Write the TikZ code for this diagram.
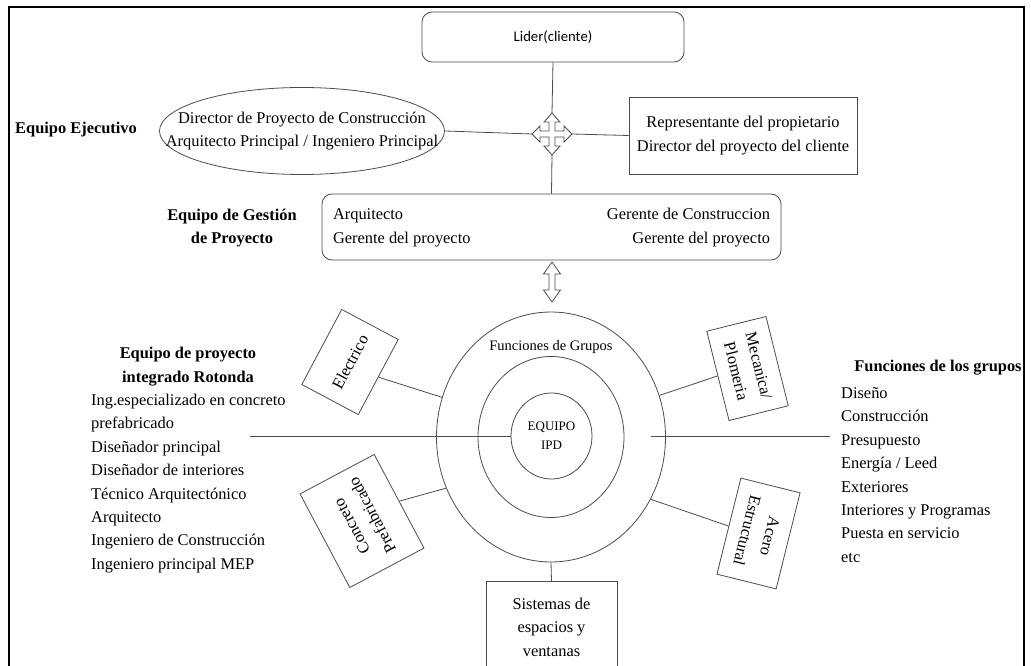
\documentclass[tikz,border=0pt]{standalone}
\usepackage{fontspec}
\setmainfont{Liberation Serif}
\newfontfamily\calibri{Carlito}
\usetikzlibrary{shapes.geometric}

\newcommand\texto{\fontsize{16.4}{23.4}\selectfont}

\tikzset{
	linea/.style={draw=black!70, line width=0.8pt},
	caja/.style={linea, rectangle, inner sep=0pt, align=center, font=\texto},
	redonda/.style={caja, rounded corners=10pt},
	titulo/.style={inner sep=0pt, align=center, font=\texto\bfseries},
	lista/.style={inner sep=0pt, align=left, font=\texto},
	anillo/.style={linea, ellipse, inner sep=0pt}
}

\begin{document}
\begin{tikzpicture}[x=1pt,y=-1pt]
	\useasboundingbox (0,0) rectangle (1031,666);
	\draw[line width=2pt] (9,672) -- (9,7) -- (1024,7) -- (1024,672);

	% parte de arriba
	\node[redonda, minimum width=262pt, minimum height=50pt, font=\calibri\fontsize{14.7}{18}\selectfont] (lider) at (553,37) {Lider(cliente)};
	\node[anillo, minimum width=285pt, minimum height=87pt] (director) at (302,131) {};
	\node[lista, align=center] (directorTxt) at (director.center) {Director de Proyecto de Construcción\\Arquitecto Principal / Ingeniero Principal};
	\node[minimum width=40pt, minimum height=42pt, inner sep=0pt] (cruz) at (552,134) {};
	\draw[linea, shift={(cruz.center)}] (0,-21) -- (8,-12) -- (3,-12) -- (3,-3) -- (12,-3) -- (12,-8) -- (20,0) -- (12,8) -- (12,3) -- (3,3) -- (3,12) -- (8,12) -- (0,21) -- (-8,12) -- (-3,12) -- (-3,3) -- (-12,3) -- (-12,8) -- (-20,0) -- (-12,-8) -- (-12,-3) -- (-3,-3) -- (-3,-12) -- (-8,-12) -- cycle;
	\node[caja, minimum width=228pt, minimum height=77pt] (representante) at (743,135.5) {Representante del propietario\\Director del proyecto del cliente};
	\node[redonda, minimum width=459pt, minimum height=66pt] (gestion) at (551.5,227) {\begin{tabular*}{437pt}{@{}l@{\extracolsep{\fill}}r@{}}Arquitecto & Gerente de Construccion\\Gerente del proyecto & Gerente del proyecto\end{tabular*}};
	\node[titulo, anchor=west] (ejecutivo) at (15,130) {Equipo Ejecutivo};
	\node[titulo] (gestionTit) at (232,228) {Equipo de Gestión\\de Proyecto};

	\draw[linea] (lider.south) -- (cruz.north);
	\draw[linea] (cruz.south) -- (gestion.north);
	\draw[linea] (director.east) -- (cruz.west);
	\draw[linea] (cruz.east) -- (representante.west);

	\node[minimum width=17pt, minimum height=40pt, inner sep=0pt] (flecha) at (552,282) {};
	\draw[linea, shift={(flecha.center)}] (0,-20) -- (8.5,-8) -- (3,-8) -- (3,8) -- (8.5,8) -- (0,20) -- (-8.5,8) -- (-3,8) -- (-3,-8) -- (-8.5,-8) -- cycle;

	% anillos
	\node[anillo, minimum width=229pt, minimum height=250pt] (exterior) at (551,437) {};
	\node[anillo, minimum width=146pt, minimum height=161pt] (medio) at (551,437) {};
	\node[anillo, minimum width=81pt, minimum height=86pt, align=center, font=\fontsize{13}{19}\selectfont] (ipd) at (551.5,436) {EQUIPO\\IPD};
	\node[inner sep=0pt, font=\fontsize{14.5}{17}\selectfont] (funciones) at (551,347) {Funciones de Grupos};

	\node[caja, rotate=62, minimum width=85pt, minimum height=64pt] (electrico) at (350,362) {Electrico};
	\node[caja, rotate=118, minimum width=106pt, minimum height=84pt] (concreto) at (362,521) {Concreto\\Prefabricado};
	\node[caja, rotate=-76, minimum width=92pt, minimum height=61pt] (mecanica) at (747.5,368.5) {Mecanica/\\Plomeria};
	\node[caja, rotate=-104, minimum width=99pt, minimum height=61pt] (acero) at (758.5,533.5) {Acero\\Estructural};
	\node[caja, minimum width=131pt, minimum height=91pt] (sistemas) at (551.5,627) {Sistemas de\\espacios y\\ventanas};

	\draw[linea] (electrico.south) -- (exterior.160);
	\draw[linea] (concreto.south) -- (exterior.206);
	\draw[linea] (mecanica.south) -- (exterior.21);
	\draw[linea] (acero.south) -- (exterior.-32);
	\draw[linea] (exterior.south) -- (sistemas.north);

	\coordinate (izq) at (250,436);
	\coordinate (derA) at (651,436);
	\coordinate (derB) at (830,436);
	\draw[linea] (izq) -- (ipd.west);
	\draw[linea] (derA) -- (derB);

	% listas de los lados
	\node[titulo] (rotondaTit) at (188,366.5) {Equipo de proyecto\\integrado Rotonda};
	\node[lista, anchor=west] (rotonda) at (91,483.5) {Ing.especializado en concreto\\prefabricado\\Diseñador principal\\Diseñador de interiores\\Técnico Arquitectónico\\Arquitecto\\Ingeniero de Construcción\\Ingeniero principal MEP};
	\node[titulo] (gruposTit) at (938,368) {Funciones de los grupos};
	\node[lista, anchor=west] (grupos) at (841,475) {Diseño\\Construcción\\Presupuesto\\Energía / Leed\\Exteriores\\Interiores y Programas\\Puesta en servicio\\etc};
\end{tikzpicture}
\end{document}
